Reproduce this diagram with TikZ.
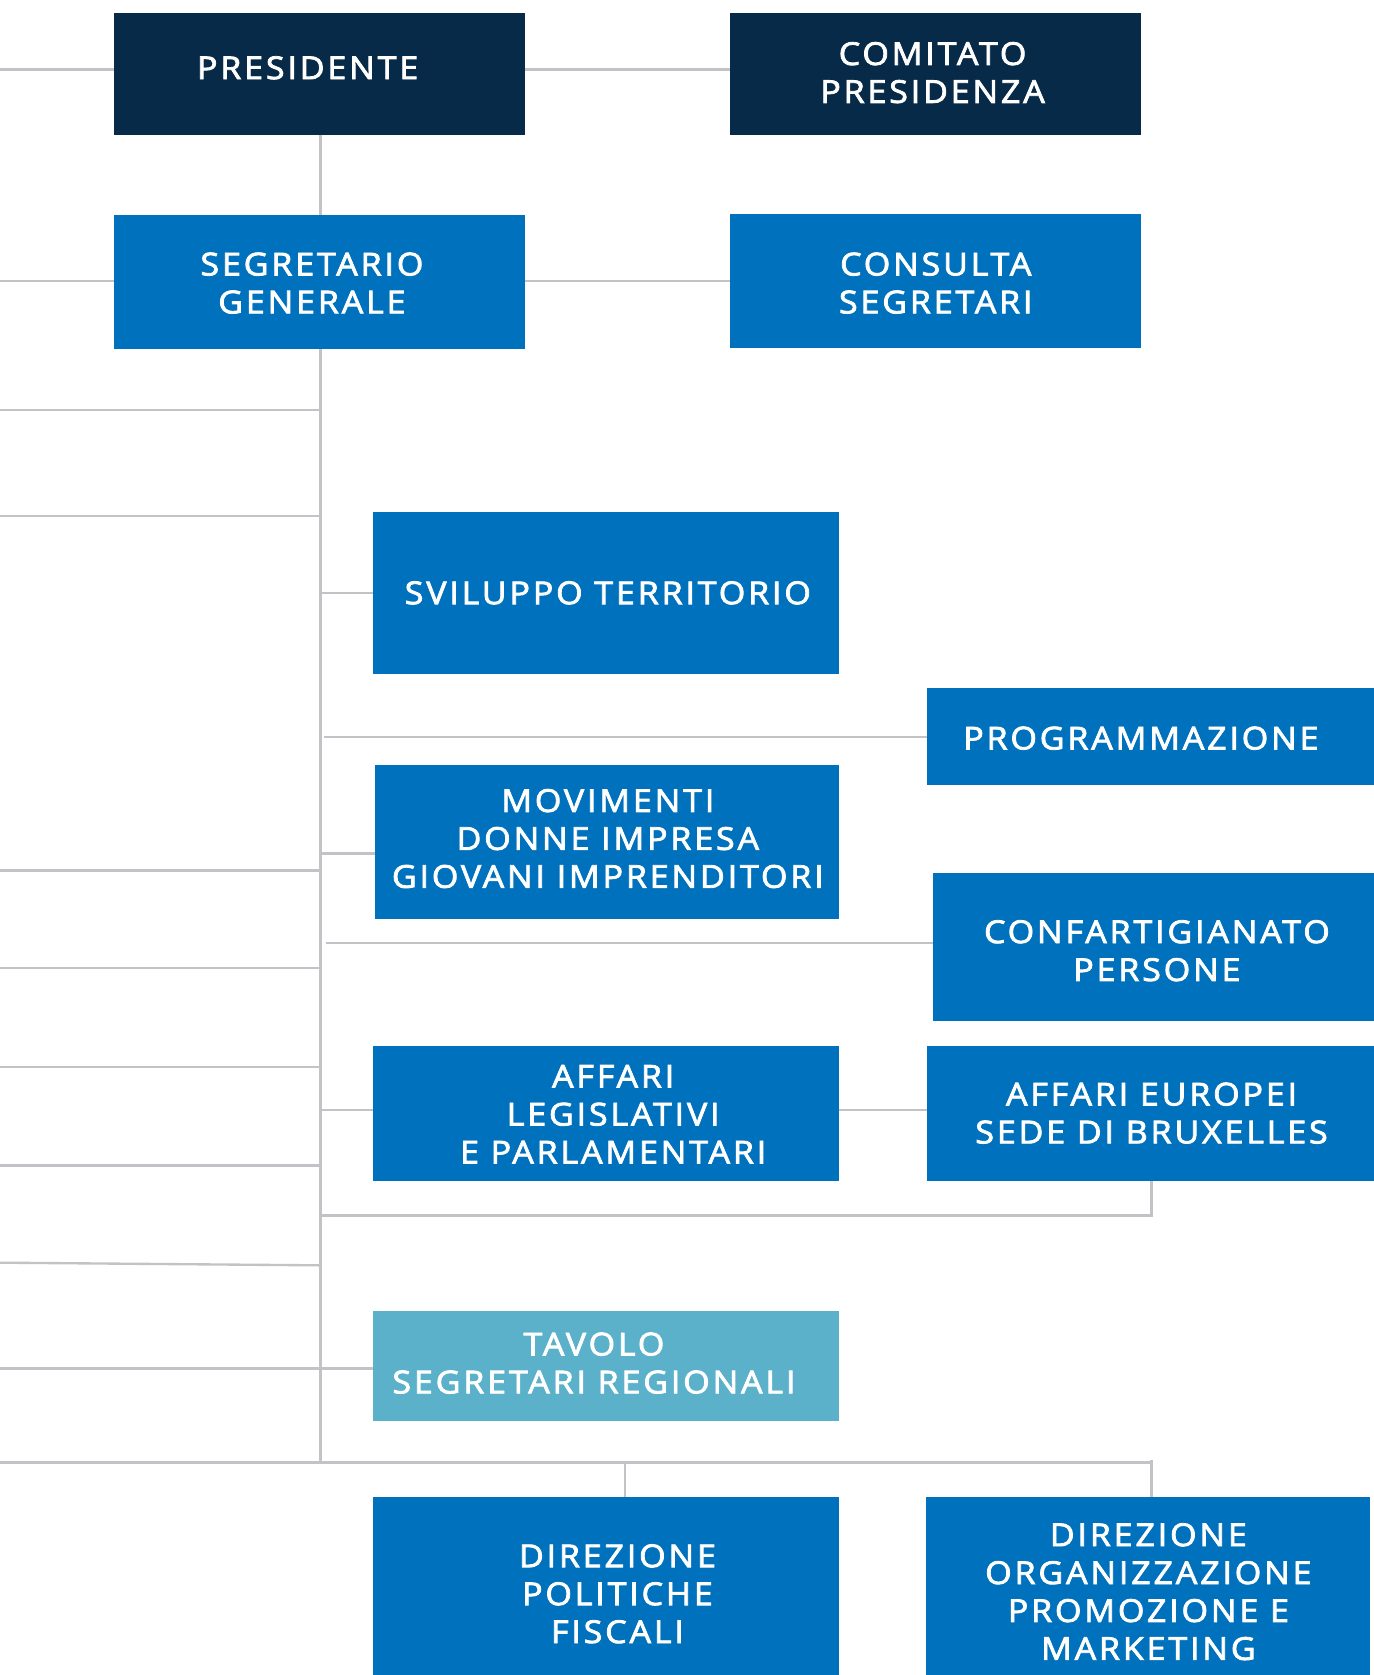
\documentclass[tikz,border=0pt]{standalone}
\usepackage{fontspec}
\setmainfont{Open Sans}
\newfontfamily\lblfont{Open Sans}[BoldFont={Open Sans}, BoldFeatures={FakeBold=2.5}, FakeStretch=1.08, LetterSpace=9]
\definecolor{navy}{HTML}{072A48}
\definecolor{mblue}{HTML}{0071BC}
\definecolor{lteal}{HTML}{5BB1CA}
\definecolor{lgray}{HTML}{C3C3C7}
\begin{document}
\begin{tikzpicture}[x=1pt,y=-1pt,
  box/.style={draw=none, inner sep=0pt, outer sep=0pt, anchor=north west},
  navybox/.style={box, fill=navy},
  bluebox/.style={box, fill=mblue},
  tealbox/.style={box, fill=lteal},
  conn/.style={draw=lgray, line width=2.2pt},
  lbl/.style={text=white, align=center, inner sep=0pt, font=\lblfont\bfseries\fontsize{29.5}{35.5}\selectfont}]
\useasboundingbox (0,0) rectangle (1286,1568);
\clip (0,0) rectangle (1286,1568);
% boxes
\node[navybox, minimum width=384pt, minimum height=114pt] (pres) at (107,12) {};
\node[navybox, minimum width=385pt, minimum height=114pt] (com) at (683,12) {};
\node[bluebox, minimum width=384pt, minimum height=126pt] (seg) at (107,201) {};
\node[bluebox, minimum width=385pt, minimum height=126pt] (con) at (683,200) {};
\node[bluebox, minimum width=436pt, minimum height=152pt] (sv) at (349,479) {};
\node[bluebox, minimum width=430pt, minimum height=91pt] (prog) at (868,644) {};
\node[bluebox, minimum width=434pt, minimum height=144pt] (mov) at (351,716) {};
\node[bluebox, minimum width=420pt, minimum height=139pt] (conf) at (873,817) {};
\node[bluebox, minimum width=436pt, minimum height=127pt] (al) at (349,979) {};
\node[bluebox, minimum width=420pt, minimum height=127pt] (ae) at (868,979) {};
\node[tealbox, minimum width=436pt, minimum height=103pt] (tav) at (349,1227) {};
\node[bluebox, minimum width=436pt, minimum height=200pt] (dpf) at (349,1401) {};
\node[bluebox, minimum width=415pt, minimum height=200pt] (dor) at (867,1401) {};
% labels
\node[lbl] (presT) at (288,63.5) {PRESIDENTE};
\node[lbl] (comT) at (873,68) {COMITATO\\PRESIDENZA};
\node[lbl] (segT) at (292,265) {SEGRETARIO\\GENERALE};
\node[lbl] (conT) at (876,265) {CONSULTA\\SEGRETARI};
\node[lbl] (svT) at (569,555) {SVILUPPO TERRITORIO};
\node[lbl] (progT) at (1068,691) {PROGRAMMAZIONE};
\node[lbl] (movT) at (569,785) {MOVIMENTI\\DONNE IMPRESA\\GIOVANI IMPRENDITORI};
\node[lbl] (confT) at (1083,890) {CONFARTIGIANATO\\PERSONE};
\node[lbl] (alT) at (574,1043) {AFFARI\\LEGISLATIVI\\E PARLAMENTARI};
\node[lbl] (aeT) at (1078,1042) {AFFARI EUROPEI\\SEDE DI BRUXELLES};
\node[lbl] (tavT) at (556,1276) {TAVOLO\\SEGRETARI REGIONALI};
\node[lbl] (dpfT) at (578,1492) {DIREZIONE\\POLITICHE\\FISCALI};
\node[lbl] (dorT) at (1075,1490) {DIREZIONE\\ORGANIZZAZIONE\\PROMOZIONE E\\MARKETING};
% connector coordinates
\coordinate (T) at (300,0);
\coordinate (Lpres) at (0,65);
\coordinate (Lseg) at (0,263);
\coordinate (Tbot) at (300,1369);
\coordinate (Pst) at (303,690);
\coordinate (Mst) at (300,799);
\coordinate (Cst) at (305,883);
\coordinate (Ast) at (300,1039);
\coordinate (Bst) at (300,1138);
\coordinate (Be) at (1078,1106);
\coordinate (Lslant) at (0,1182);
\coordinate (Rslant) at (300,1184.5);
\coordinate (Ltav) at (0,1281);
\coordinate (Lbot) at (0,1369);
\coordinate (Rbot) at (1078,1369);
\coordinate (Dpx) at (585,1369);
\coordinate (Dox) at (1078,1367);
% connectors
\draw[conn] (Lpres) -- (Lpres -| pres.west);
\draw[conn] (pres.east |- Lpres) -- (com.west |- Lpres);
\draw[conn] (pres.south -| T) -- (seg.north -| T);
\draw[conn] (Lseg) -- (Lseg -| seg.west);
\draw[conn] (seg.east |- Lseg) -- (con.west |- Lseg);
\draw[conn] (seg.south -| T) -- (Tbot);
\foreach \yy [count=\i] in {384,483,815,906,999,1091} {
  \coordinate (La\i) at (0,\yy);
  \draw[conn] (La\i) -- (La\i -| T);
}
\draw[conn] (Lslant) -- (Rslant);
\draw[conn] (T |- sv.west) -- (sv.west);
\draw[conn] (Pst) -- (Pst -| prog.west);
\draw[conn] (Mst) -- (Mst -| mov.west);
\draw[conn] (Cst) -- (Cst -| conf.west);
\draw[conn] (Ast) -- (Ast -| al.west);
\draw[conn] (al.east |- Ast) -- (ae.west |- Ast);
\draw[conn] (Bst) -| (Be);
\draw[conn] (Ltav) -- (Ltav -| tav.west);
\draw[conn] (Lbot) -- (Rbot);
\draw[conn] (Dpx) -- (Dpx |- dpf.north);
\draw[conn] (Dox) -- (Dox |- dor.north);
\end{tikzpicture}
\end{document}
